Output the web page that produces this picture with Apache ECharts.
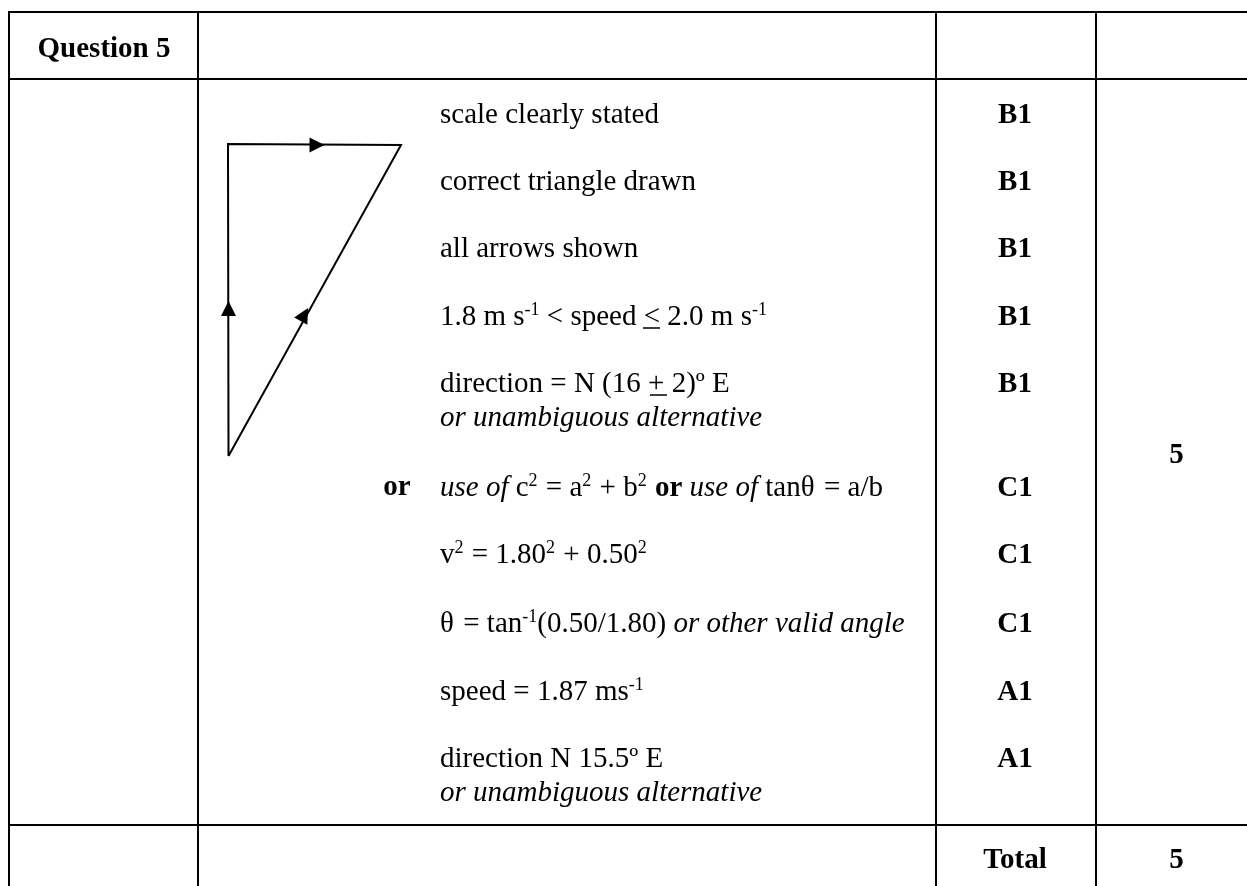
<!DOCTYPE html>
<html>
<head>
<meta charset="utf-8">
<style>html,body{margin:0;padding:0;background:#fff}#c{width:1247px;height:886px}</style>
<script src="https://cdn.jsdelivr.net/npm/echarts@6/dist/echarts.min.js"></script>
</head>
<body>
<div id="c"></div>
<script>
// Table rule positions
const columnRules = [9, 198, 936, 1096];
const rowRules = [12, 79, 825];
const pageRight = 1247, pageBottom = 886;

// Vector triangle
const trianglePath = [[228.5, 456], [228, 144], [401, 145], [228.5, 456]];
const arrowHeads = [
  { at: [317, 145], turn: -90 },
  { at: [228.5, 308.5], turn: 0 },
  { at: [304.4, 314.6], turn: -29 }
];

// Scheme text
const textX = 440;
const schemeLines = [
  [122.5, 'scale clearly stated'],
  [189, 'correct triangle drawn'],
  [256.5, 'all arrows shown'],
  [324, '1.8 m s{s|-1} < speed < 2.0 m s{s|-1}'],
  [391, 'direction = N (16 + 2)º E'],
  [425, '{i|or unambiguous alternative}'],
  [495, '{i|use of} c{q|2} = a{q|2} + b{q|2} {b|or} {i|use of} tan{t|θ} = a/b'],
  [562, 'v{q|2} = 1.80{q|2} + 0.50{q|2}'],
  [631, '{t|θ} = tan{s|-1}(0.50/1.80) {i|or other valid angle}'],
  [699, 'speed = 1.87 ms{s|-1}'],
  [766, 'direction N 15.5º E'],
  [800, '{i|or unambiguous alternative}']
];
const underlineBars = [[[643, 328], [660, 328]], [[650, 395], [667, 395]]];

// Bold labels
const markLabels = [
  [122.5, 'B1'], [189, 'B1'], [256.5, 'B1'], [324, 'B1'], [391, 'B1'],
  [495, 'C1'], [562, 'C1'], [631, 'C1'], [699, 'A1'], [766, 'A1'], [867, 'Total']
];
const markCentreX = 1015;
const totalCentreX = 1176.5;
const totalLabels = [[462, '5'], [867, '5']];
const headingLabel = [104, 56.5, 'Question 5'];
const orLabel = [397, 494, 'or'];

const FONT = '"Liberation Serif","Times New Roman",serif';
const SIZE = 29;
const ascentShift = SIZE * 0.24;

const rules = [];
columnRules.forEach(function (x) { rules.push([x, rowRules[0] - 1], [x, pageBottom], null); });
rowRules.forEach(function (y) { rules.push([columnRules[0] - 1, y], [pageRight, y], null); });
const ruleData = rules.map(function (p) { return p || ['-', '-']; });

const underlineData = [];
underlineBars.forEach(function (b) { underlineData.push(b[0], b[1], ['-', '-']); });

const richStyles = {
  i: { fontFamily: FONT, fontSize: SIZE, fontStyle: 'italic', color: '#000' },
  b: { fontFamily: FONT, fontSize: SIZE, fontWeight: 'bold', color: '#000' },
  t: { fontFamily: FONT, fontSize: SIZE, color: '#000', width: 16 },
  s: { fontFamily: FONT, fontSize: 18, color: '#000', verticalAlign: 'top', lineHeight: 12 },
  q: { fontFamily: FONT, fontSize: 18, color: '#000', verticalAlign: 'top', lineHeight: 12, width: 10 }
};

function textSeries(name, rows, position, boldAll) {
  return {
    name: name, type: 'scatter', symbolSize: 0, silent: true, clip: false, animation: false,
    itemStyle: { opacity: 1 },
    data: rows.map(function (r) { return { value: [r[0], r[1] - ascentShift], text: r[2] }; }),
    label: {
      show: true, position: position, distance: 0, color: '#000',
      fontFamily: FONT, fontSize: SIZE, fontWeight: boldAll ? 'bold' : 'normal',
      lineHeight: 32,
      formatter: function (p) { return p.data.text; },
      rich: richStyles
    }
  };
}

const chart = echarts.init(document.getElementById('c'), null, { renderer: 'canvas' });
chart.setOption({
  animation: false,
  backgroundColor: '#fff',
  grid: { left: 0, right: 0, top: 0, bottom: 0 },
  xAxis: { type: 'value', min: 0, max: pageRight, show: false },
  yAxis: { type: 'value', min: 0, max: pageBottom, inverse: true, show: false },
  series: [
    { name: 'rules', type: 'line', symbol: 'none', silent: true, clip: false, data: ruleData,
      lineStyle: { color: '#000', width: 2 } },
    { name: 'triangle', type: 'line', symbol: 'none', silent: true, clip: false, data: trianglePath,
      lineStyle: { color: '#000', width: 2, join: 'miter' } },
    { name: 'underlines', type: 'line', symbol: 'none', silent: true, clip: false, data: underlineData,
      lineStyle: { color: '#000', width: 1.5 } },
    { name: 'arrows', type: 'scatter', silent: true, clip: false, symbol: 'triangle', symbolSize: 15,
      itemStyle: { color: '#000', opacity: 1 },
      data: arrowHeads.map(function (a) { return { value: a.at, symbolRotate: a.turn }; }) },
    textSeries('scheme', schemeLines.map(function (r) { return [textX, r[0], r[1]]; }), 'right', false),
    textSeries('marks', markLabels.map(function (r) { return [markCentreX, r[0], r[1]]; }), 'inside', true),
    textSeries('totals', totalLabels.map(function (r) { return [totalCentreX, r[0], r[1]]; }), 'inside', true),
    textSeries('heading', [headingLabel], 'inside', true),
    textSeries('or', [orLabel], 'inside', true)
  ]
});
</script>
</body>
</html>
